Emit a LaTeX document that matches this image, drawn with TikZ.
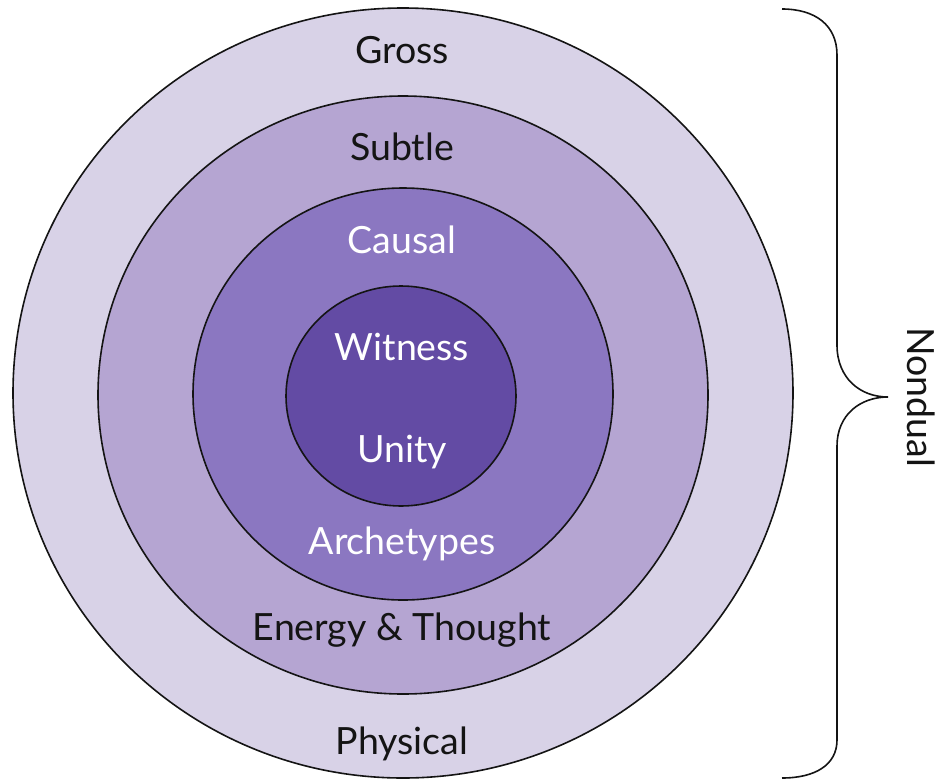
\documentclass[tikz,border=0pt]{standalone}
\usepackage{fontspec}
\setmainfont{Lato}
\usetikzlibrary{shapes.geometric}
\definecolor{ringA}{RGB}{216,210,231}
\definecolor{ringB}{RGB}{181,165,210}
\definecolor{ringC}{RGB}{139,119,193}
\definecolor{ringD}{RGB}{99,75,164}
\definecolor{inkdark}{RGB}{20,20,20}
\tikzset{
  ring/.style={ellipse, draw=inkdark, line width=1.6pt, inner sep=0pt},
  lbl/.style={font=\fontsize{37.5}{42}\selectfont, anchor=base, inner sep=0pt},
  dark/.style={lbl, text=inkdark},
  light/.style={lbl, text=white},
}
\begin{document}
\begin{tikzpicture}[x=1pt,y=-1pt]
\useasboundingbox (0,0) rectangle (951,780);
\node[ring, fill=ringA, minimum width=780pt, minimum height=770pt] (gross) at (403,393) {};
\node[ring, fill=ringB, minimum width=610pt, minimum height=598pt] (subtle) at (403,395) {};
\node[ring, fill=ringC, minimum width=420pt, minimum height=412pt] (causal) at (403,394) {};
\node[ring, fill=ringD, minimum width=230pt, minimum height=220pt] (witness) at (401,396) {};
\node[dark] (tgross) at (402,63) {Gross};
\node[dark] (tsubtle) at (402,160) {Subtle};
\node[light] (tcausal) at (402,253) {Causal};
\node[light] (twitness) at (402,360) {Witness};
\node[light] (tunity) at (402,462) {Unity};
\node[light] (tarch) at (402,554) {Archetypes};
\node[dark] (tenergy) at (402,640) {Energy \& Thought};
\node[dark] (tphys) at (402,754) {Physical};
\coordinate (btop) at (782,9);
\coordinate (bbot) at (782,778);
\coordinate (btip) at (888,397);
\draw[inkdark, line width=1.6pt] (btop) .. controls (815,9) and (837,25) .. (837,55) -- (837,345) .. controls (837,378) and (860,397) .. (btip) .. controls (860,397) and (837,415) .. (837,446) -- (837,740) .. controls (837,765) and (815,778) .. (bbot);
\node[font=\fontsize{37.5}{42}\selectfont, rotate=-90, text=inkdark, inner sep=0pt] (nondual) at (921,397) {Nondual};
\end{tikzpicture}
\end{document}
